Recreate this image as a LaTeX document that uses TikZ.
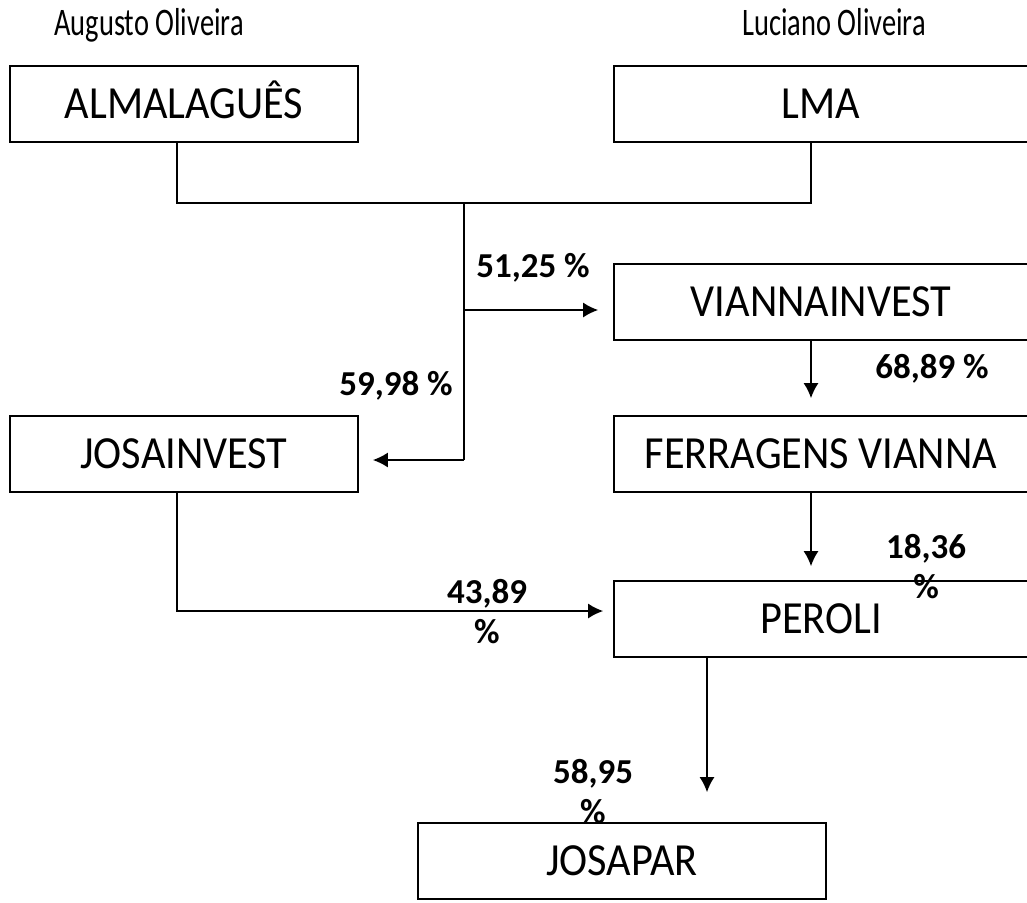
\documentclass[tikz,border=0pt]{standalone}
\usepackage{fontspec}
\setmainfont{Carlito}
\newfontfamily\boxfont[FakeStretch=0.92]{Carlito}
\newfontfamily\ownerfont[FakeStretch=0.73]{Carlito}
\usetikzlibrary{arrows.meta}

\begin{document}
\begin{tikzpicture}[x=0.5pt,y=-0.5pt,
  box/.style={draw,line width=0.9pt,minimum width=174pt,minimum height=38pt,inner sep=0pt,
    text height=14.8pt,text depth=0pt,font=\boxfont\fontsize{23}{27}\selectfont},
  wide/.style={box,minimum width=207pt},
  owner/.style={anchor=base,font=\ownerfont\fontsize{19.5}{23}\selectfont},
  pct/.style={align=center,font=\bfseries\fontsize{17.5}{20}\selectfont},
  link/.style={line width=0.7pt},
  arr/.style={link,-{Latex[length=7.5pt,width=7.5pt]}}]
  \useasboundingbox (0,0) rectangle (1027,902);

  \node[owner] (augusto) at (149,35) {Augusto Oliveira};
  \node[owner] (luciano) at (834,35) {Luciano Oliveira};

  \node[box] (alma) at (184,104) {ALMALAGUÊS};
  \node[wide] (lma) at (821,104) {LMA};
  \node[wide] (vianna) at (821,302) {VIANNAINVEST};
  \node[wide] (ferragens) at (821,454) {FERRAGENS VIANNA};
  \node[box] (josainvest) at (184,454) {JOSAINVEST};
  \node[wide] (peroli) at (821,619) {PEROLI};
  \node[box,minimum width=204pt] (josapar) at (622,861) {JOSAPAR};

  \coordinate (top) at (464,203);
  \coordinate (mid) at (464,310);
  \coordinate (low) at (464,460);
  \coordinate (bend) at (177,611);

  \draw[link] ([xshift=-3.5pt]alma.south) |- (top) -| ([xshift=-5pt]lma.south);
  \draw[link] (top) -- (low);
  \draw[arr,shorten >=7.5pt] (mid) -- (mid -| vianna.west);
  \draw[arr,shorten >=7pt] (low) -- (low -| josainvest.east);
  \draw[arr,shorten >=8.5pt] ([xshift=-5pt]vianna.south) -- ([xshift=-5pt]ferragens.north);
  \draw[arr,shorten >=7pt] ([xshift=-5pt]ferragens.south) -- ([xshift=-5pt]peroli.north);
  \draw[arr,shorten >=5pt] ([xshift=-3.5pt]josainvest.south) |- (peroli.west |- bend);
  \draw[arr,shorten >=15pt] ([xshift=-57pt]peroli.south) -- ([xshift=-57pt]peroli.south |- josapar.north);

  \node[pct] (p1) at (533,268) {51,25 \%};
  \node[pct] (p2) at (396,386) {59,98 \%};
  \node[pct] (p3) at (932,369) {68,89 \%};
  \node[pct] (p4) at (487,612) {43,89\\\%};
  \node[pct] (p5) at (926,567) {18,36\\\%};
  \node[pct] (p6) at (593,792) {58,95\\\%};
\end{tikzpicture}
\end{document}
